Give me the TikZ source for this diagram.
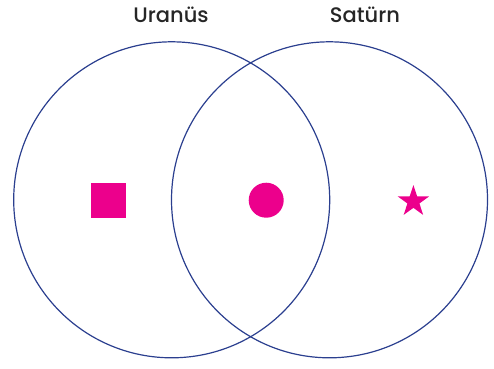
\documentclass[tikz,border=0pt]{standalone}
\usepackage{fontspec}
\setmainfont{Poppins}[UprightFont={* Medium}]
\usepackage{tikz}
\usetikzlibrary{shapes.geometric}
\usepackage{xcolor}
\definecolor{ringblue}{HTML}{2B3F8F}
\definecolor{dotpink}{HTML}{EC008C}

\begin{document}
\begin{tikzpicture}[x=1pt, y=-1pt, line join=round,
    ring/.style={draw=ringblue, line width=1.2pt},
    planet/.style={font=\fontsize{21}{24}\selectfont, text=black!85, anchor=base}]

    \useasboundingbox (0,0) rectangle (494,368);

    % Centres of the two sets, both of radius 158.
    \coordinate (U) at (171.7,199.8);
    \coordinate (S) at (329.5,199.8);

    % ==========================================
    % DRAW THE TWO CIRCLES
    % ==========================================

    \draw[ring] (U) circle (158);
    \draw[ring] (S) circle (158);

    % ==========================================
    % LABELS AND MARKERS
    % ==========================================

    \node[planet] (uranus) at (171,22.7) {Uranüs};
    \node[planet] (saturn) at (365,22.7) {Satürn};

    % square only in Uranus, dot in both, star only in Saturn
    \fill[dotpink] (90.7,182.7) rectangle (126,217.7);
    \fill[dotpink] (266.2,200.2) circle (17.5);
    \node[star, star points=5, star point ratio=2.6, fill=dotpink,
          minimum size=33, inner sep=0pt] (mark) at (413.4,201.5) {};

\end{tikzpicture}
\end{document}
